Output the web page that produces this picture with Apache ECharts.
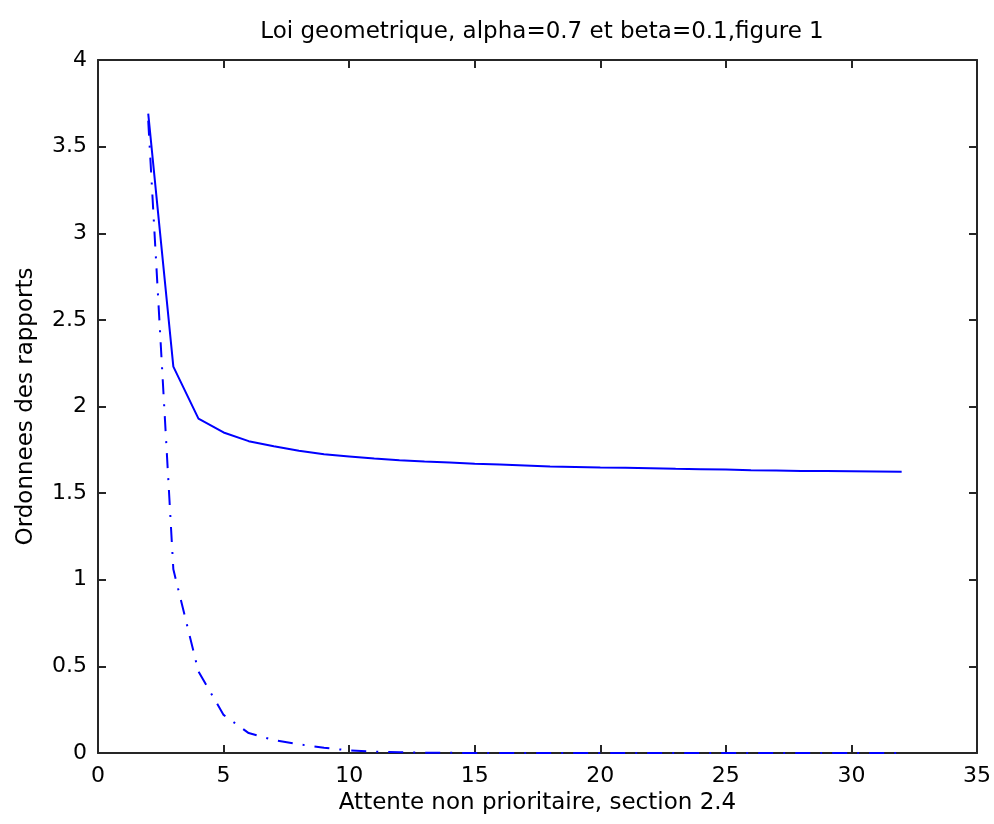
<!DOCTYPE html>
<html>
<head>
<meta charset="utf-8">
<script src="https://cdn.jsdelivr.net/npm/echarts@6/dist/echarts.min.js"></script>
<style>
  html, body { margin: 0; padding: 0; background: #fff; }
  #chart { width: 994px; height: 824px; }
</style>
</head>
<body>
<div id="chart"></div>
<script>
// x values (attente) shared by both curves
var attente = [2, 3, 4, 5, 6, 7, 8, 9, 10, 11, 12, 13, 14, 15, 16, 17, 18, 19, 20,
               21, 22, 23, 24, 25, 26, 27, 28, 29, 30, 31, 32];
// solid curve
var rapportPlein = [3.69, 2.23, 1.93, 1.85, 1.80, 1.77, 1.745, 1.724, 1.712, 1.70, 1.69,
                    1.683, 1.677, 1.67, 1.665, 1.66, 1.654, 1.651, 1.648, 1.646, 1.643,
                    1.640, 1.638, 1.636, 1.632, 1.630, 1.628, 1.627, 1.626, 1.625, 1.624];
// dash-dot curve
var rapportPointille = [3.65, 1.06, 0.47, 0.22, 0.115, 0.075, 0.05, 0.03, 0.015, 0.008, 0.004,
                        0.002, 0.001, 0, 0, 0, 0, 0, 0, 0, 0, 0, 0, 0, 0, 0, 0, 0, 0, 0, 0];
var xTicks = [0, 5, 10, 15, 20, 25, 30, 35];
var yTicks = [0, 0.5, 1, 1.5, 2, 2.5, 3, 3.5, 4];

var chart = echarts.init(document.getElementById('chart'));

function pairs(xs, ys) {
    return xs.map(function (x, i) { return [x, ys[i]]; });
}

var axisColor = '#262626';
var font = 'DejaVu Sans, Arial, sans-serif';

function boxAxis(extra) {
    // top / right copies of the axes, ticks only (matlab box)
    var ax = {
        type: 'value',
        axisLine: { show: true, onZero: false, lineStyle: { color: axisColor, width: 2 } },
        axisTick: { show: true, inside: true, length: 8, lineStyle: { color: axisColor, width: 2 } },
        axisLabel: { show: false },
        splitLine: { show: false }
    };
    for (var k in extra) ax[k] = extra[k];
    return ax;
}

var option = {
    animation: false,
    backgroundColor: '#fff',
    title: {
        text: 'Loi geometrique, alpha=0.7 et beta=0.1,figure 1',
        left: 537,
        textAlign: 'center',
        top: 16,
        textStyle: { fontFamily: font, fontSize: 23, fontWeight: 'normal', color: '#000' }
    },
    grid: { left: 98, right: 17, top: 60, bottom: 71, show: false },
    xAxis: [{
        type: 'value',
        min: xTicks[0], max: xTicks[xTicks.length - 1], interval: 5,
        name: 'Attente non prioritaire, section 2.4',
        nameLocation: 'middle', nameGap: 36,
        nameTextStyle: { fontFamily: font, fontSize: 23, color: '#000' },
        axisLine: { show: true, onZero: false, lineStyle: { color: axisColor, width: 2 } },
        axisTick: { show: true, inside: true, length: 8, lineStyle: { color: axisColor, width: 2 } },
        axisLabel: { fontFamily: font, fontSize: 22, color: '#000', margin: 12 },
        splitLine: { show: false }
    }, boxAxis({ position: 'top', min: xTicks[0], max: xTicks[xTicks.length - 1], interval: 5 })],
    yAxis: [{
        type: 'value',
        min: yTicks[0], max: yTicks[yTicks.length - 1], interval: 0.5,
        name: 'Ordonnees des rapports',
        nameLocation: 'middle', nameGap: 60,
        nameTextStyle: { fontFamily: font, fontSize: 23, color: '#000' },
        axisLine: { show: true, onZero: false, lineStyle: { color: axisColor, width: 2 } },
        axisTick: { show: true, inside: true, length: 8, lineStyle: { color: axisColor, width: 2 } },
        axisLabel: { fontFamily: font, fontSize: 22, color: '#000', margin: 11 },
        splitLine: { show: false }
    }, boxAxis({ position: 'right', min: yTicks[0], max: yTicks[yTicks.length - 1], interval: 0.5 })],
    series: [{
        type: 'line',
        data: pairs(attente, rapportPlein),
        showSymbol: false,
        lineStyle: { color: '#0000ff', width: 2 }
    }, {
        type: 'line',
        data: pairs(attente, rapportPointille),
        showSymbol: false,
        lineStyle: { color: '#0000ff', width: 2, type: [15, 10, 2, 10] }
    }]
};

chart.setOption(option);
</script>
</body>
</html>
